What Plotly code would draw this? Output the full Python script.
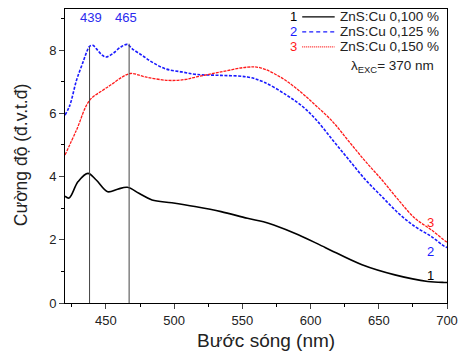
import plotly.graph_objects as go

# ---- data ----
x1 = [420, 423, 429.6, 436.8, 442.9, 451.3, 458.5, 465.7, 474.2, 483.8, 498.3, 515.2,
      534.4, 553.7, 565.5, 573, 591, 611, 637.7, 661.8, 685.9, 697.9, 700]
y1 = [3.38, 3.32, 3.84, 4.10, 3.89, 3.52, 3.60, 3.66, 3.47, 3.26, 3.17, 3.05,
      2.89, 2.68, 2.57, 2.47, 2.16, 1.75, 1.21, 0.89, 0.68, 0.65, 0.65]

x2 = [420, 423.6, 428.4, 433.2, 436, 438, 440.4, 444, 447, 450, 455, 461, 465.7, 469.3,
      476.6, 483.8, 493.5, 505.5, 516.3, 534.4, 553.7, 565.7, 582.6, 594.6, 604.2,
      616.3, 628.3, 640.4, 652.4, 664.4, 676.5, 688.6, 698.2, 700]
y2 = [5.94, 6.26, 7.04, 7.62, 7.95, 8.12, 8.15, 7.99, 7.85, 7.78, 7.89, 8.10, 8.18, 8.04,
      7.83, 7.62, 7.41, 7.31, 7.23, 7.20, 7.15, 6.99, 6.57, 6.20, 5.79,
      5.15, 4.52, 3.89, 3.36, 2.84, 2.42, 2.10, 1.79, 1.76]

x3 = [420, 428.4, 438, 447.7, 455, 462, 468.2, 479, 495.9, 508, 516.3, 534.4, 553.7,
      563.3, 577.7, 589.8, 603, 616.3, 628.3, 640.4, 652.4, 664.4, 676.5, 688.6, 699.4, 700]
y3 = [4.68, 5.47, 6.41, 6.73, 6.94, 7.15, 7.26, 7.15, 7.04, 7.07, 7.15, 7.31, 7.46,
      7.44, 7.15, 6.78, 6.28, 5.73, 5.10, 4.47, 3.89, 3.26, 2.68, 2.31, 1.94, 1.93]

series_names = ["ZnS:Cu 0,100 %", "ZnS:Cu 0,125 %", "ZnS:Cu 0,150 %"]
series_nums = ["1", "2", "3"]
series_colors = ["#000000", "#1a1aff", "#ff1a1a"]
series_dash = ["solid", "3px,1.5px", "3px,1px"]
series_width = [1.6, 1.6, 1.3]
legend_dash = ["solid", "4px,3px", "1px,1px"]
end_label_y = [0.86, 1.62, 2.56]

peak_line_x = [438, 467]
peak_line_top = [8.1, 8.2]
peak_labels = ["439", "465"]
peak_label_x = [439, 465]

x_ticks = [450, 500, 550, 600, 650, 700]
y_ticks = [0, 2, 4, 6, 8]

FONT = "Liberation Sans, Arial, sans-serif"
TXT = "#222222"
C = dict(xanchor="center", yanchor="middle", showarrow=False)

fig = go.Figure()
for xs, ys, nm, col, dsh, w in zip([x1, x2, x3], [y1, y2, y3], series_names,
                                   series_colors, series_dash, series_width):
    fig.add_trace(go.Scatter(x=xs, y=ys, mode="lines", name=nm, showlegend=False,
                             line=dict(color=col, width=w, dash=dsh), line_shape="spline"))

for px, top in zip(peak_line_x, peak_line_top):
    fig.add_shape(type="line", xref="x", yref="y", x0=px, x1=px, y0=0, y1=top,
                  line=dict(color="#444444", width=1))

for lx, lt in zip(peak_label_x, peak_labels):
    fig.add_annotation(x=lx, y=9.03, xref="x", yref="y", text=lt, **C,
                       font=dict(family=FONT, size=13, color="#2a2aee"))

for num, col, ly in zip(series_nums, series_colors, end_label_y):
    fig.add_annotation(x=688, y=ly, xref="x", yref="y", text=num, **C,
                       font=dict(family=FONT, size=13, color=col))

# manual legend (numbers, sample line, label)
legend_rows_y = [0.973, 0.922, 0.871]
for num, col, ry, nm, ld in zip(series_nums, series_colors, legend_rows_y, series_names, legend_dash):
    fig.add_annotation(x=0.598, y=ry, xref="paper", yref="paper", text=num, **C,
                       font=dict(family=FONT, size=13, color=col))
    fig.add_shape(type="line", xref="paper", yref="paper", x0=0.621, x1=0.706, y0=ry, y1=ry,
                  line=dict(color=col, width=1.3, dash=ld))
    fig.add_annotation(x=0.714, y=ry, xref="paper", yref="paper", text=nm, showarrow=False,
                       xanchor="left", yanchor="middle",
                       font=dict(family=FONT, size=13.5, color=TXT))

fig.add_annotation(x=0.858, y=0.803, xref="paper", yref="paper",
                   text="λ<sub>EXC</sub>= 370 nm", **C,
                   font=dict(family=FONT, size=13.5, color=TXT))

# axis titles
fig.add_annotation(x=0.526, y=-0.129, xref="paper", yref="paper", text="Bước sóng (nm)", **C,
                   font=dict(family=FONT, size=19, color=TXT))
fig.add_annotation(x=-0.116, y=0.505, xref="paper", yref="paper", text="Cường độ (đ.v.t.đ)",
                   textangle=-90, **C, font=dict(family=FONT, size=17.5, color=TXT))

fig.update_layout(
    width=466, height=356,
    margin=dict(l=65, r=13, t=8, b=53),
    paper_bgcolor="white", plot_bgcolor="white",
    font=dict(family=FONT, color=TXT),
    showlegend=False,
    xaxis=dict(range=[420, 700], tickvals=x_ticks, ticks="outside", ticklen=5,
               showline=True, linecolor="black", linewidth=1, mirror=True,
               showgrid=False, zeroline=False,
               tickfont=dict(family=FONT, size=13, color=TXT),
               minor=dict(dtick=25, tick0=425, ticks="outside", ticklen=3, tickcolor="black")),
    yaxis=dict(range=[0, 9.3], tickvals=y_ticks, ticks="outside", ticklen=5,
               showline=True, linecolor="black", linewidth=1, mirror=True,
               showgrid=False, zeroline=False,
               tickfont=dict(family=FONT, size=13, color=TXT),
               minor=dict(dtick=1, tick0=1, ticks="outside", ticklen=3, tickcolor="black")),
)

fig.write_html("out.html", config={"displayModeBar": False},
               post_script="document.body.style.margin='0';")
